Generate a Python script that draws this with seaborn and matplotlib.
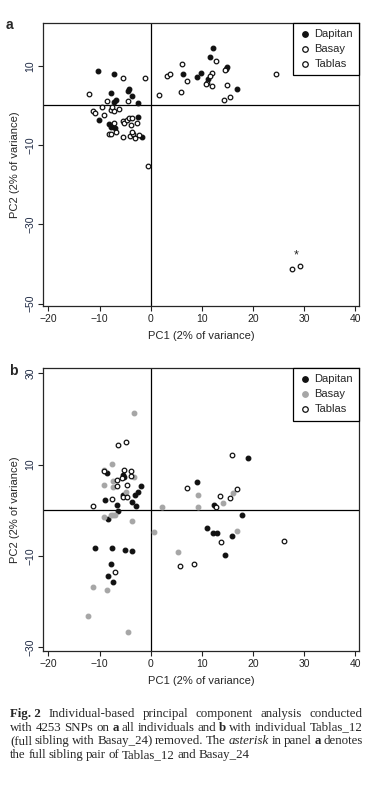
import numpy as np
import pandas as pd
import matplotlib
matplotlib.use('Agg')
import matplotlib.pyplot as plt
import seaborn as sns

# ---- data (PC1, PC2) ----
# panel a: all individuals
a_dap_x = [-10.36, -7.18, -7.76, -4.5, -4.18, -3.6, -6.84, -7.1, -2.54, -2.48, -10.05, -8.2,
           -7.76, -7.04, -1.76, 12.12, 11.53, 6.26, 9.83, 8.99, 11.2, 14.86, 14.72, 16.87]
a_dap_y = [8.64, 7.95, 3.16, 3.66, 4.08, 2.3, 1.47, 0.96, 0.55, -2.83, -3.66, -4.67,
           -5.35, -5.76, -8.03, 14.44, 12.33, 7.95, 8.2, 7.2, 6.69, 9.65, 9.22, 4.17]
a_bas_x = [-12.0, -5.42, -1.05, -8.48, -9.52, -4.38, -11.28, -10.89, -9.19, -7.76, -7.23,
           -7.5, -6.26, 1.68, 3.19, 6.12, 12.71, 12.05, 14.59, 24.56, 29.19]
a_bas_y = [2.9, 6.87, 6.94, 1.06, -0.3, 1.21, -1.39, -1.82, -2.32, -1.14, -1.39,
           -0.3, -0.81, 2.57, 7.37, 10.48, 11.16, 8.2, 8.96, 7.88, -40.6]
a_tab_x = [-7.23, -5.47, -5.16, -4.69, -4.3, -3.66, -3.91, -2.74, -8.21, -7.7, -6.78, -5.47,
           -3.99, -3.52, -3.6, -3.07, -2.35, -0.59, 3.83, 7.1, 5.86, 11.65, 11.0, 10.87,
           12.05, 14.86, 14.33, 15.5, 27.57]
a_tab_y = [-4.34, -3.99, -4.34, -3.66, -3.23, -3.16, -5.0, -4.5, -7.27, -7.2, -6.69, -7.95,
           -7.78, -7.2, -6.6, -8.29, -7.45, -15.2, 7.95, 6.19, 3.33, 7.45, 5.76, 5.43,
           5.0, 5.25, 1.39, 2.07, -41.36]
# full sibling pair (Tablas_12, Basay_24)
sib_x = [27.57, 29.19]
sib_y = [-41.36, -40.6]

# panel b: Tablas_12 removed
b_dap_x = [-8.48, -5.47, -5.28, -1.83, -2.48, -3.07, -5.42, -9.0, -6.53, -3.6, -2.82, -6.39,
           -8.41, 8.99, 19.02, 12.38, 17.79, 11.0, 12.24, 13.02, 15.96, 14.53,
           -10.83, -7.5, -4.97, -3.66, -7.76, -8.29, -7.3]
b_dap_y = [8.1, 7.8, 7.36, 5.25, 4.08, 3.28, 3.42, 2.19, 1.1, 1.75, 0.88, -0.15,
           -1.83, 6.2, 11.52, 1.16, -0.96, -3.94, -5.04, -5.04, -5.63, -9.79,
           -8.26, -8.26, -8.62, -8.99, -11.7, -14.32, -15.7]
b_bas_x = [-3.2, -7.57, -9.13, -7.3, -9.07, -7.3, -3.33, -4.83, -9.2, -7.76, -6.92, -7.43,
           -3.72, 2.15, 9.19, 9.25, 14.13, 16.15, 0.65, 16.93, 5.34, -11.22, -8.48, -12.2, -4.38]
b_bas_y = [21.4, 10.2, 8.83, 6.35, 5.47, 5.1, 7.29, 4.0, -1.4, -1.1, -0.96, -1.1,
           -2.34, 0.66, 0.66, 3.42, 1.53, 3.72, -4.82, -4.6, -9.2, -16.86, -17.4, -23.15, -26.7]
b_tab_x = [-6.33, -4.77, -9.19, -5.28, -3.91, -3.85, -6.59, -6.65, -5.55, -4.69, -7.5, -5.42,
           -4.63, -11.35, 7.1, 15.89, 16.93, 13.6, 15.5, 12.71, 13.8, 26.13, -6.92, 5.73, 8.53]
b_tab_y = [14.23, 14.96, 8.6, 8.9, 8.6, 7.58, 6.64, 5.32, 7.07, 5.61, 2.4, 2.98,
           2.98, 1.0, 4.81, 12.04, 4.66, 3.13, 2.77, 0.8, -7.0, -6.72, -13.58, -12.2, -11.83]

pops = ['Dapitan', 'Basay', 'Tablas']
x_ticks = [-20, -10, 0, 10, 20, 30, 40]
a_yticks = [10, -10, -30, -50]
b_yticks = [30, 10, -10, -30]

sns.set_style('ticks')
plt.rcParams['font.family'] = ['Liberation Sans', 'DejaVu Sans']

W, H = 373, 793
fig = plt.figure(figsize=(W / 100, H / 100), dpi=100)
ax_a = fig.add_axes([43 / W, 1 - 306 / H, 316 / W, 283 / H])
ax_b = fig.add_axes([43 / W, 1 - 651 / H, 316 / W, 282.7 / H])


def draw_panel(ax, groups, styles, ylim, yticks):
    for (gx, gy), name, (fc, ec) in zip(groups, pops, styles):
        sns.scatterplot(x=gx, y=gy, ax=ax, s=11, color=fc, edgecolor=ec,
                        linewidth=0.9, label=name, zorder=3)
    ax.axhline(0, color='black', lw=0.9, zorder=1)
    ax.axvline(0, color='black', lw=0.9, zorder=1)
    ax.set_xlim(-21.05, 40.7)
    ax.set_ylim(*ylim)
    ax.set_xticks(x_ticks)
    ax.set_yticks(yticks)
    ax.set_yticklabels([str(t).replace('-', '\u2212') for t in yticks], rotation=90, va='center')
    ax.set_xticklabels([str(t).replace('-', '\u2212') for t in x_ticks])
    ax.tick_params(labelsize=7.5, length=3.5, width=0.8, pad=2, colors='#222222')
    ax.tick_params(axis='y', labelcolor='#1f2a44')
    for sp in ax.spines.values():
        sp.set_visible(True)
        sp.set_linewidth(0.9)
    ax.set_xlabel('PC1 (2% of variance)', fontsize=8, labelpad=5)
    ax.set_ylabel('PC2 (2% of variance)', fontsize=8, labelpad=4)
    leg = ax.legend(loc='upper right', borderaxespad=0, fancybox=False, fontsize=8,
                    handletextpad=0.2, borderpad=0.55, labelspacing=0.45,
                    handlelength=1.2, markerscale=1.2)
    leg.get_frame().set_edgecolor('black')
    leg.get_frame().set_linewidth(0.9)
    leg.get_frame().set_alpha(1)


draw_panel(ax_a, [(a_dap_x, a_dap_y), (a_bas_x, a_bas_y), (a_tab_x, a_tab_y)],
           [('#111111', '#111111'), ('white', '#111111'), ('white', '#111111')],
           (-50.6, 20.8), a_yticks)
ax_a.text(np.mean(sib_x), max(sib_y) + 1.2, '*', ha='center', va='bottom', fontsize=9)

draw_panel(ax_b, [(b_dap_x, b_dap_y), (b_bas_x, b_bas_y), (b_tab_x, b_tab_y)],
           [('#111111', '#111111'), ('#a6a6a6', '#a6a6a6'), ('white', '#111111')],
           (-30.8, 31.1), b_yticks)

fig.text(6 / W, 1 - 29 / H, 'a', fontsize=10, fontweight='bold')
fig.text(9 / W, 1 - 375 / H, 'b', fontsize=10, fontweight='bold')

# ---- caption, word by word, justified ----
renderer = fig.canvas.get_renderer()
N, B, I = 'normal', 'bold', 'italic'
caption = [
    ([('Fig. 2', B), ('Individual-based', N), ('principal', N), ('component', N),
      ('analysis', N), ('conducted', N)], True),
    ([('with', N), ('4253', N), ('SNPs', N), ('on', N), ('a', B), ('all', N), ('individuals', N),
      ('and', N), ('b', B), ('with', N), ('individual', N), ('Tablas_12', N)], True),
    ([('(full', N), ('sibling', N), ('with', N), ('Basay_24)', N), ('removed.', N), ('The', N),
      ('asterisk', I), ('in', N), ('panel', N), ('a', B), ('denotes', N)], True),
    ([('the', N), ('full', N), ('sibling', N), ('pair', N), ('of', N), ('Tablas_12', N),
      ('and', N), ('Basay_24', N)], False),
]
left, right = 10, 363
for i, (words, justify) in enumerate(caption):
    y = 1 - (717 + 13.6 * i) / H
    texts = []
    for w, kind in words:
        t = fig.text(0, y, w, fontfamily=['Liberation Serif', 'DejaVu Serif'], fontsize=9.3,
                     fontweight='bold' if kind == B else 'normal',
                     fontstyle='italic' if kind == I else 'normal', va='baseline')
        texts.append(t)
    widths = [t.get_window_extent(renderer).width for t in texts]
    gap = (right - left - sum(widths)) / (len(texts) - 1) if justify else 2.6
    x = left
    for t, wd in zip(texts, widths):
        t.set_x(x / W)
        x += wd + gap

fig.savefig('out.png', dpi=100)
